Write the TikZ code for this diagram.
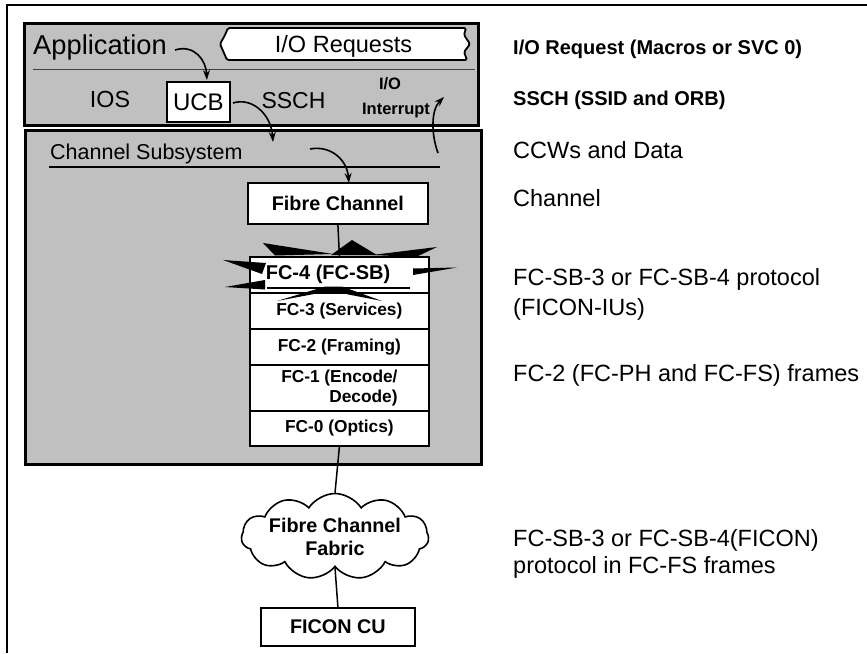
\documentclass[tikz,border=0pt]{standalone}
\usepackage{fontspec}
\setmainfont{Liberation Sans}
\usetikzlibrary{arrows.meta,shapes.symbols,calc}
\definecolor{panel}{RGB}{192,192,192}
\begin{document}
\begin{tikzpicture}[x=1pt,y=-1pt,
  panelbox/.style={draw=black, line width=2.5pt, fill=panel, inner sep=0pt, anchor=north west},
  whitebox/.style={draw=black, line width=1.8pt, fill=white, inner sep=0pt, anchor=north west},
  layer/.style={whitebox, minimum width=179pt, font=\fontsize{17.3}{20}\selectfont\bfseries},
  conn/.style={line width=1.5pt},
  curvearrow/.style={line width=1.6pt, -{Stealth[length=10pt,width=7pt]}},
  bigtxt/.style={inner sep=0pt, anchor=base west, font=\fontsize{23.5}{28}\selectfont},
  boldtxt/.style={inner sep=0pt, anchor=base west, font=\fontsize{20}{24}\selectfont\bfseries},
  spike/.style={fill=black}
]
\useasboundingbox (0,0) rectangle (867,653);
% outer frame
\draw[line width=1.6pt] (7,653) -- (7,5) -- (867,5);

% ---- Application / IOS panel
\node[panelbox, minimum width=454pt, minimum height=102pt] (appbox) at (23,22) {};
\draw[line width=1pt, black!75] (33,69) -- (475,69);
\node[inner sep=0pt, anchor=base west, font=\fontsize{27.3}{30}\selectfont] (app) at (33,54) {Application};
\draw[line width=1.8pt, fill=white, rounded corners=1.5pt]
  (228,28) -- (466,28) -- (464,35) -- (470,44) -- (464,52) -- (467,60)
  -- (227,60) -- (224,53) -- (220,44) -- (225,35) -- cycle;
\node[inner sep=0pt, anchor=base, font=\fontsize{23.5}{28}\selectfont] (ioreq) at (343.5,52.5) {I/O Requests};
\node[inner sep=0pt, anchor=base, font=\fontsize{23.3}{28}\selectfont] (ios) at (110,107.5) {IOS};
\node[whitebox, minimum width=63pt, minimum height=40pt, font=\fontsize{24}{28}\selectfont] (ucb) at (166,81) {UCB};
\node[inner sep=0pt, anchor=base, font=\fontsize{23}{28}\selectfont] (ssch) at (293.5,108) {SSCH};
\node[inner sep=0pt, anchor=base, font=\fontsize{16.5}{20}\selectfont\bfseries] (io) at (390,89) {I/O};
\node[inner sep=0pt, anchor=base, font=\fontsize{16.5}{20}\selectfont\bfseries] (intr) at (396,114) {Interrupt};

% ---- Channel subsystem panel
\node[panelbox, minimum width=456pt, minimum height=334pt] (cssbox) at (24,129) {};
\node[inner sep=0pt, anchor=base west, font=\fontsize{21.5}{26}\selectfont] (css) at (50,159) {Channel Subsystem};
\draw[line width=2pt] (49,166.5) -- (440,166.5);

\node[whitebox, minimum width=180pt, minimum height=41pt, font=\fontsize{19.8}{24}\selectfont\bfseries] (fcbox) at (247,182) {Fibre Channel};

\node[layer, minimum height=36pt] (fc4) at (249,256) {};
\node[layer, minimum height=36pt] (fc3) at (249,292) {FC-3 (Services)};
\node[layer, minimum height=36pt] (fc2) at (249,328) {FC-2 (Framing)};
\node[layer, minimum height=46pt, align=right, font=\fontsize{17.3}{19.5}\selectfont\bfseries] (fc1) at (249,364) {FC-1 (Encode/\\Decode)};
\node[layer, minimum height=35pt] (fc0) at (249,410) {FC-0 (Optics)};

\draw[conn] (fcbox.south) -- (fc4.north);

% starburst on FC-4
\fill[spike] (263,243) -- (333,254) -- (275,255.5) -- cycle;
\fill[spike] (331,255) -- (352,240) -- (377,255) -- cycle;
\fill[spike] (372,255) -- (437,247) -- (416,257) -- cycle;
\fill[spike] (413,268.5) -- (457,267.5) -- (413,275) -- cycle;
\fill[spike] (223,260) -- (266,263) -- (262,274) -- cycle;
\fill[spike] (225,287) -- (265,280) -- (265,289.5) -- cycle;
\fill[spike] (277,301) -- (325,286.5) -- (342,286.5) -- (382,301) -- (338,292.5) -- (322,292.5) -- cycle;
\draw[line width=1.5pt] (267,288) -- (410,288);
\node[inner sep=0pt, anchor=base, font=\fontsize{20}{24}\selectfont\bfseries] (fc4t) at (328,279) {FC-4 (FC-SB)};

% ---- Fabric and CU
\node[cloud, cloud puffs=11, cloud puff arc=115, cloud ignores aspect, draw=black, line width=1.6pt, fill=white,
      minimum width=168pt, minimum height=86pt, inner sep=0pt, align=center,
      font=\fontsize{19.8}{23}\selectfont\bfseries] (fabric) at (335,536.5) {Fibre Channel\\Fabric};
\node[whitebox, minimum width=154pt, minimum height=38pt, font=\fontsize{19.8}{24}\selectfont\bfseries] (cu) at (260,607) {FICON CU};
\draw[conn] (fc0.south) -- (fabric.north);
\draw[conn] (fabric.south) -- (cu.north);

% ---- curved arrows
\coordinate (appA) at (175,50);
\draw[curvearrow] (appA) .. controls (194,44) and (206,60) .. ($(ucb.north)+(8.5,-1)$);
\coordinate (ucbA) at (233,103);
\coordinate (sschB) at (273,142);
\draw[curvearrow] (ucbA) .. controls (252,97) and (271,114) .. (sschB);
\coordinate (chA) at (310,149);
\draw[curvearrow] (chA) .. controls (331,145) and (347,160) .. ($(fcbox.north)+(11,1)$);
\coordinate (irA) at (438,153);
\coordinate (irB) at (444,97);
\draw[curvearrow] (irA) .. controls (431,134) and (431,110) .. (irB);

% ---- right-hand descriptions
\node[boldtxt] (d1) at (513,54) {I/O Request (Macros or SVC 0)};
\node[boldtxt] (d2) at (513,105) {SSCH (SSID and ORB)};
\node[bigtxt] (d3) at (513,158) {CCWs and Data};
\node[bigtxt] (d4) at (513,206) {Channel};
\node[bigtxt] (d5) at (513,285) {FC-SB-3 or FC-SB-4 protocol};
\node[bigtxt] (d5b) at (513,315) {(FICON-IUs)};
\node[bigtxt] (d6) at (513,381) {FC-2 (FC-PH and FC-FS) frames};
\node[bigtxt] (d7) at (513,546) {FC-SB-3 or FC-SB-4(FICON)};
\node[bigtxt] (d7b) at (513,573) {protocol in FC-FS frames};
\end{tikzpicture}
\end{document}
